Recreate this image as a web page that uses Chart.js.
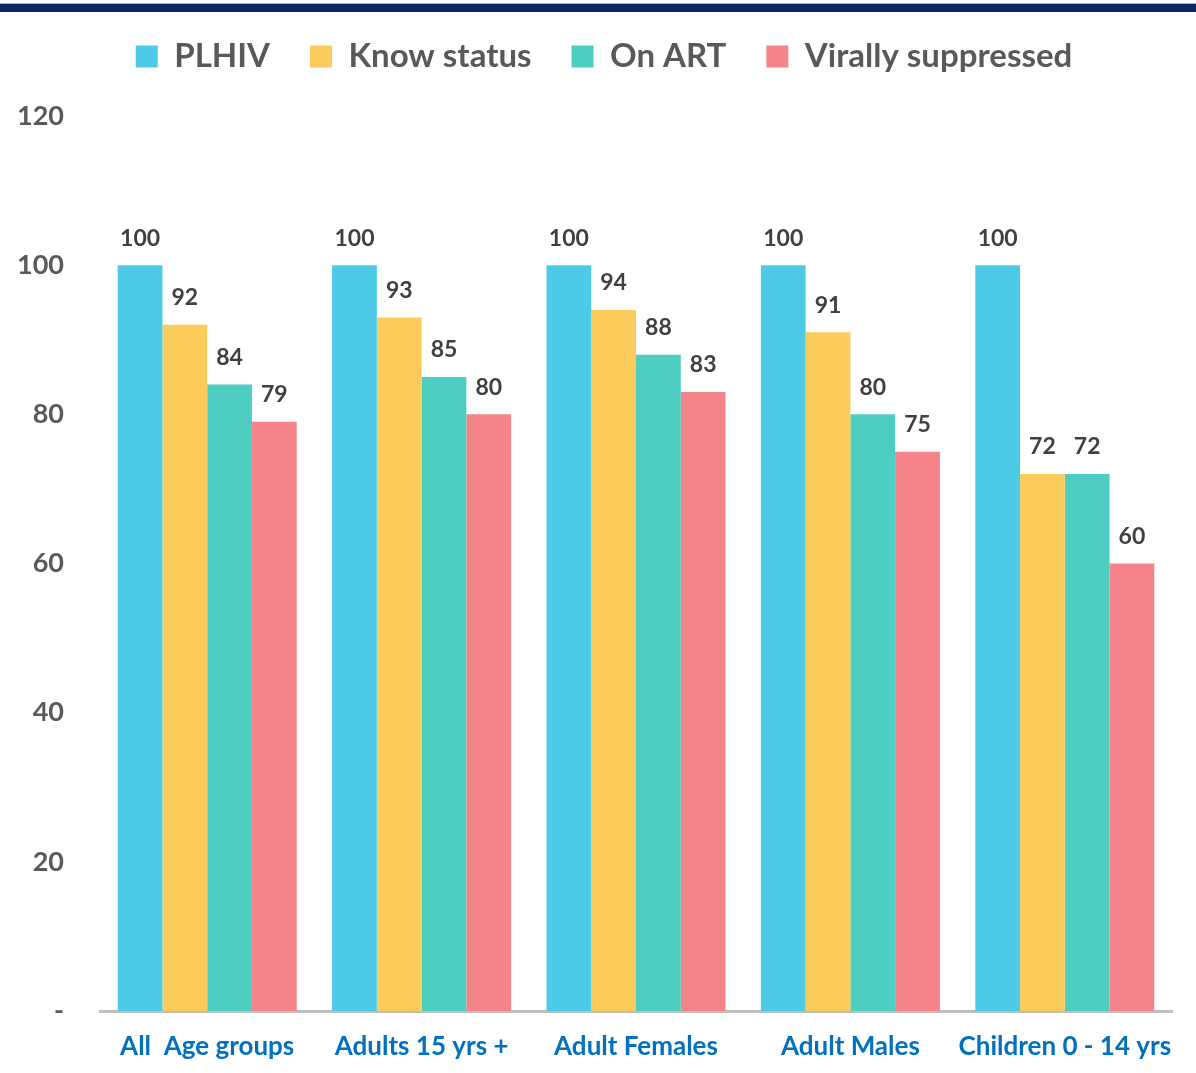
<!DOCTYPE html>
<html>
<head>
<meta charset="utf-8">
<title>Cascade by age group</title>
<script src="https://cdn.jsdelivr.net/npm/chart.js@4.4.1/dist/chart.umd.min.js"></script>
<style>
    html, body { margin: 0; padding: 0; background: #fff; }
    #band {
        position: absolute; left: 0; top: 3px; width: 1196px; height: 8px;
        background: #0b2463; border-top: 1px solid #aab4cc;
    }
    #wrap { position: absolute; left: 0; top: 0; width: 1196px; height: 1073px; }
</style>
</head>
<body>
<div id="wrap"><canvas id="cascadeChart"></canvas></div>
<div id="band"></div>
<script>
// data
const categories = ['All  Age groups', 'Adults 15 yrs +', 'Adult Females', 'Adult Males', 'Children 0 - 14 yrs'];
const plhiv = [100, 100, 100, 100, 100];
const knowStatus = [92, 93, 94, 91, 72];
const onArt = [84, 85, 88, 80, 72];
const virallySuppressed = [79, 80, 83, 75, 60];
const yTicks = [0, 20, 40, 60, 80, 100, 120];

const FONT = 'Lato, "Open Sans", sans-serif';

// value labels above each bar
const valueLabels = {
    id: 'valueLabels',
    afterDatasetsDraw(chart) {
        const ctx = chart.ctx;
        ctx.save();
        ctx.font = 'bold 23px ' + FONT;
        ctx.fillStyle = '#404040';
        ctx.textAlign = 'center';
        ctx.textBaseline = 'middle';
        chart.data.datasets.forEach(function(ds, i) {
            chart.getDatasetMeta(i).data.forEach(function(bar, j) {
                ctx.fillText(ds.data[j], bar.x, bar.y - 27);
            });
        });
        ctx.restore();
    }
};

// extra room below the legend, and nudge it right a bit
const legendGap = {
    id: 'legendGap',
    afterInit(chart) {
        const legend = chart.legend;
        const fit = legend.fit;
        legend.fit = function() {
            fit.call(this);
            this.height += 33;
        };
        const draw = legend.draw;
        legend.draw = function() {
            this.ctx.save();
            this.ctx.translate(18, 0);
            draw.call(this);
            this.ctx.restore();
        };
    }
};

document.addEventListener('DOMContentLoaded', function() {
    const ctx = document.getElementById('cascadeChart');
    new Chart(ctx, {
        type: 'bar',
        data: {
            labels: categories,
            datasets: [
                { label: 'PLHIV', data: plhiv, backgroundColor: '#4dcbe6' },
                { label: 'Know status', data: knowStatus, backgroundColor: '#fbcc5b' },
                { label: 'On ART', data: onArt, backgroundColor: '#4ecec1' },
                { label: 'Virally suppressed', data: virallySuppressed, backgroundColor: '#f4848a' }
            ]
        },
        options: {
            responsive: true,
            maintainAspectRatio: false,
            animation: false,
            datasets: { bar: { categoryPercentage: 0.835, barPercentage: 1.0 } },
            layout: { padding: { top: 0, right: 24, bottom: 10, left: 0 } },
            plugins: {
                tooltip: { enabled: false },
                legend: {
                    position: 'top',
                    labels: {
                        boxWidth: 22,
                        boxHeight: 22,
                        padding: 40,
                        color: '#595959',
                        font: { family: FONT, size: 33, weight: 'bold' }
                    }
                }
            },
            scales: {
                x: {
                    afterFit: function(scale) { scale.height = 52; },
                    grid: { display: false, drawTicks: false },
                    border: { display: true, color: '#bfbfbf', width: 3 },
                    ticks: {
                        padding: 20,
                        maxRotation: 0,
                        minRotation: 0,
                        autoSkip: false,
                        color: '#0070c0',
                        font: { family: FONT, size: 26, weight: 'bold' }
                    }
                },
                y: {
                    min: 0,
                    max: 120,
                    afterFit: function(scale) { scale.width = 100; },
                    afterBuildTicks: function(scale) {
                        scale.ticks = yTicks.map(v => ({ value: v }));
                    },
                    grid: { display: false, drawTicks: false },
                    border: { display: false },
                    ticks: {
                        padding: 36,
                        color: '#595959',
                        font: { family: FONT, size: 27, weight: 'bold' },
                        callback: v => v === 0 ? '-' : v
                    }
                }
            }
        },
        plugins: [valueLabels, legendGap]
    });
});
</script>
</body>
</html>
